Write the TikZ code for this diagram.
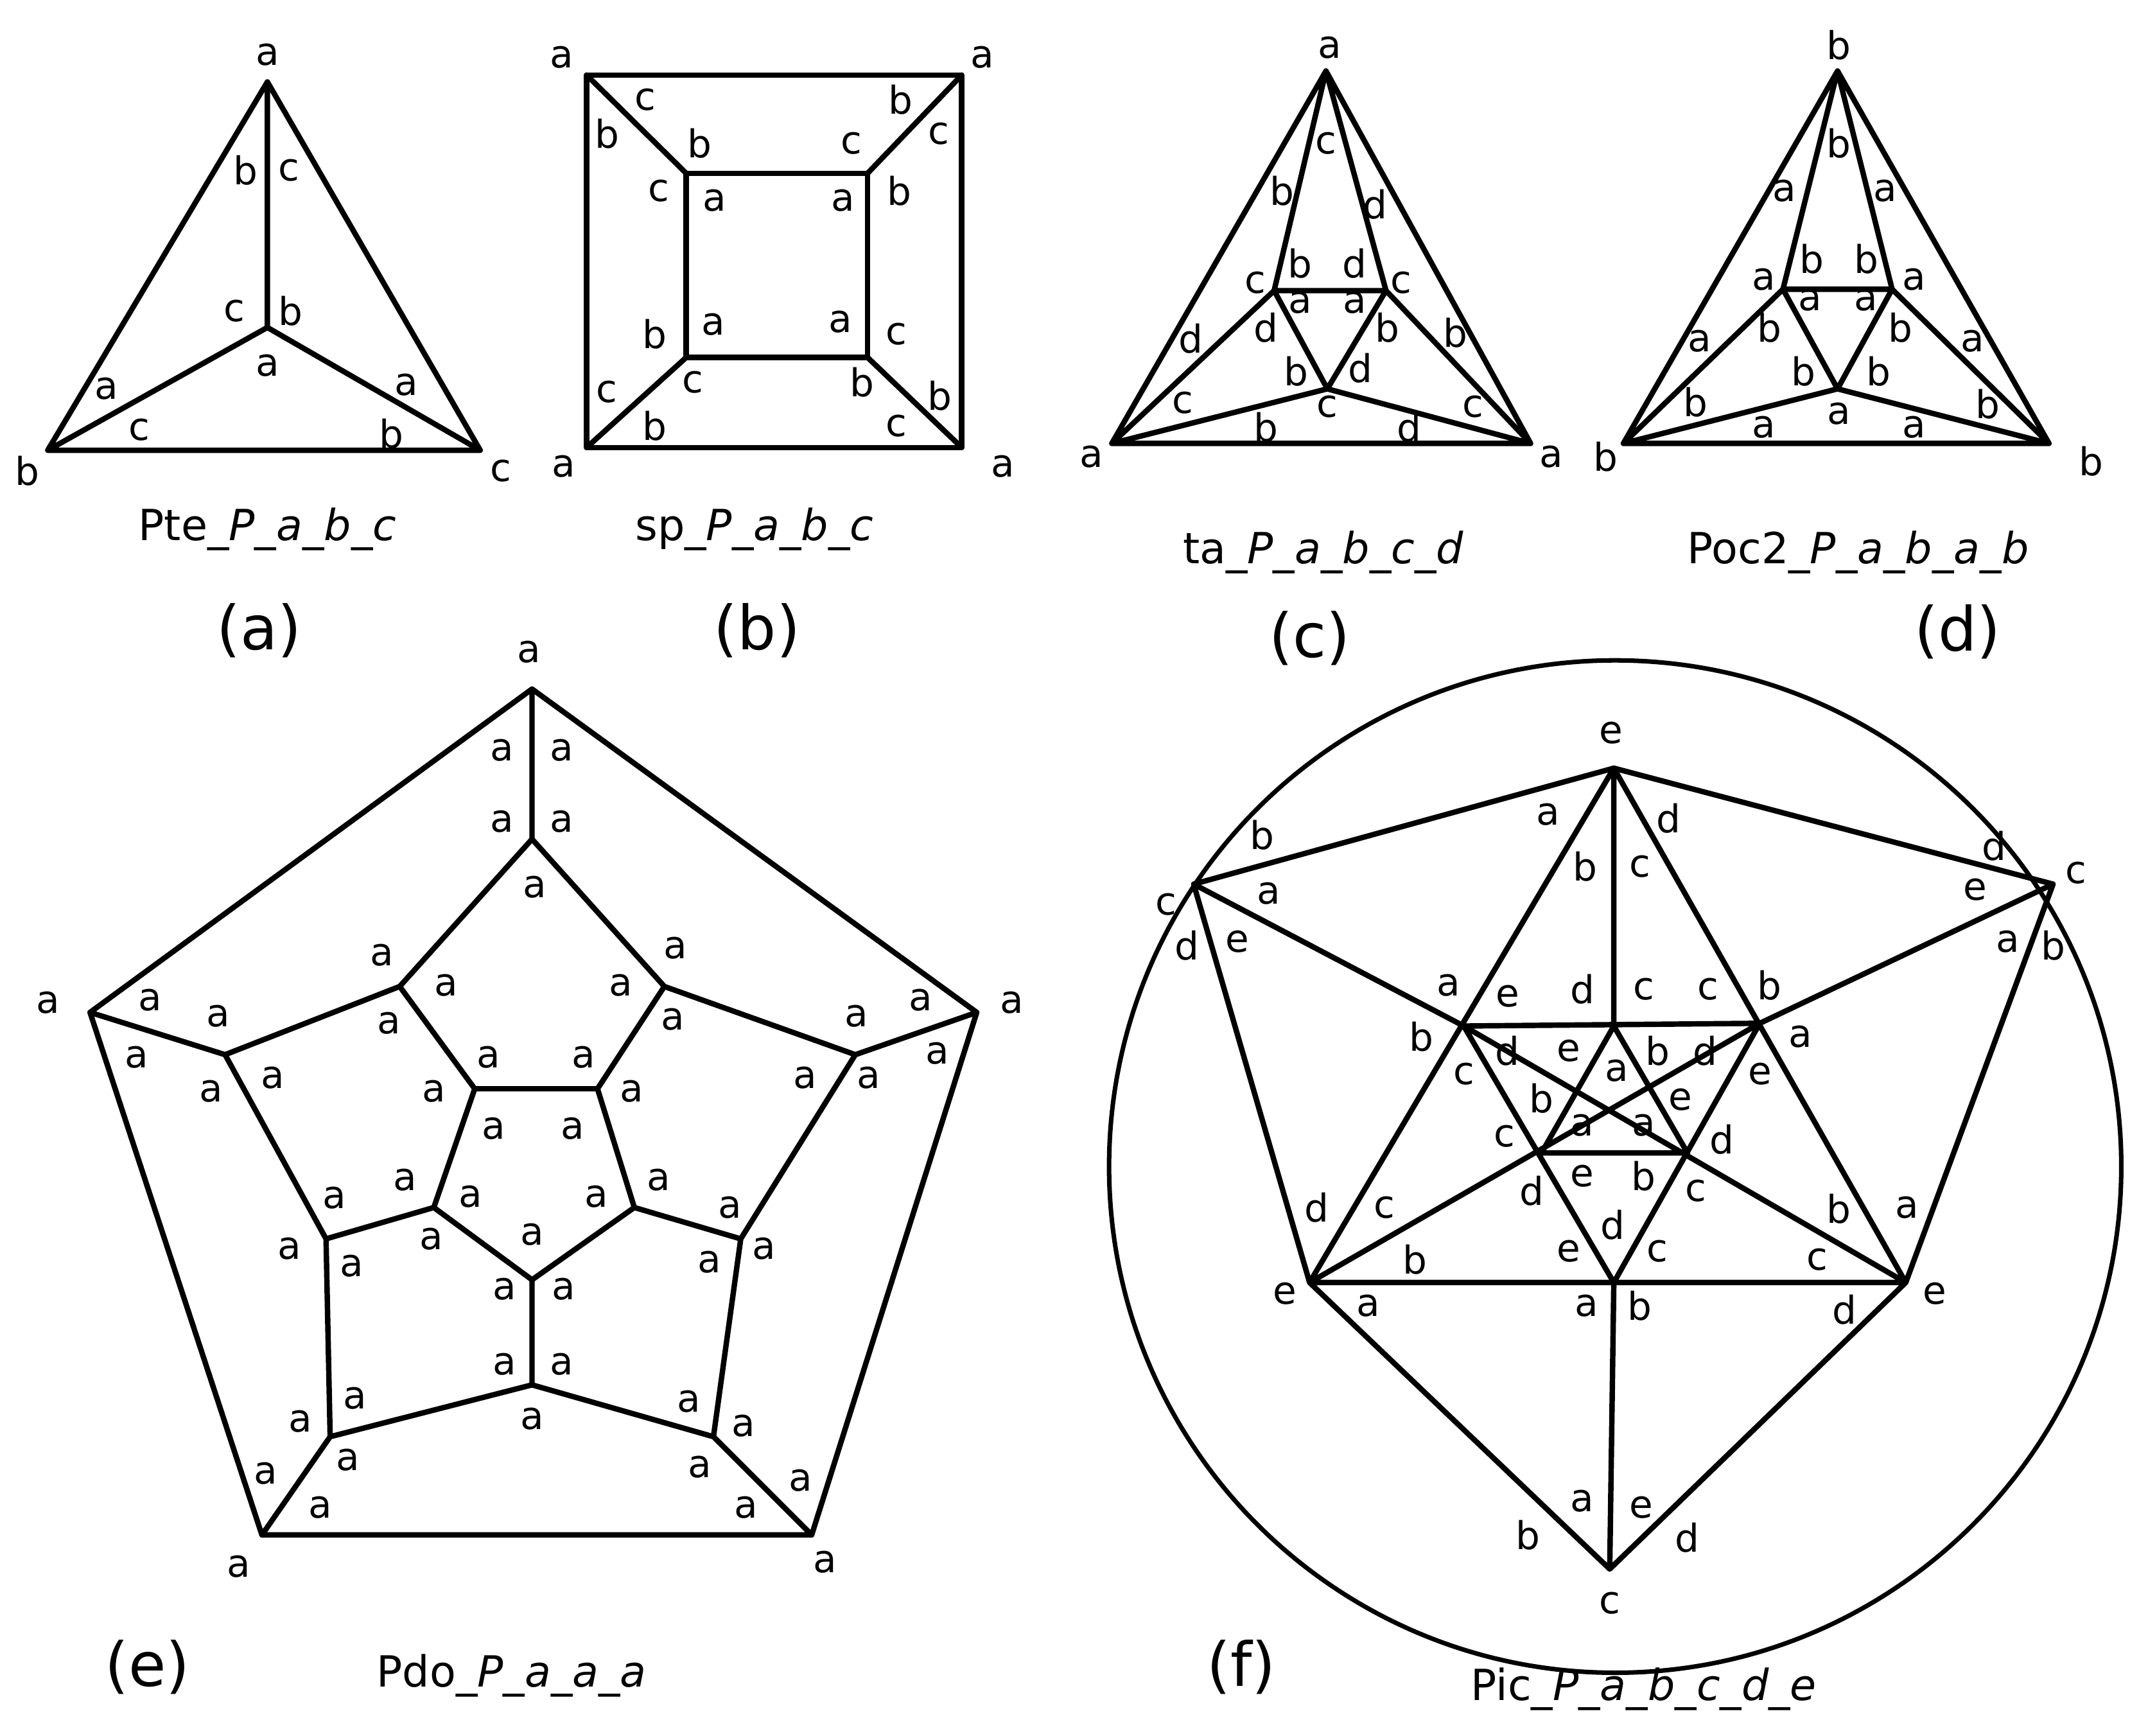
\documentclass[tikz,border=0pt]{standalone}
\usepackage{fontspec}
\setmainfont{DejaVu Sans}
\begin{document}
\begin{tikzpicture}[x=0.02124cm,y=-0.02124cm,
  ed/.style={line width=2.4pt,line join=round,line cap=round},
  lb/.style={font=\fontsize{17}{20}\selectfont,inner sep=0pt},
  captxt/.style={font=\fontsize{19}{22}\selectfont,inner sep=0pt},
  tag/.style={font=\fontsize{27}{32}\selectfont,inner sep=0pt}]
\useasboundingbox (0,0) rectangle (1568,1272);
% (a)
\coordinate (aT) at (196,60); \coordinate (aL) at (35,330); \coordinate (aR) at (352,330); \coordinate (aC) at (196,240);
\draw[ed] (aT)--(aL)--(aR)--cycle (aT)--(aC) (aL)--(aC)--(aR);
\foreach \t/\x/\y in {a/196/40,b/20/345,c/367/345,b/180/125,c/212/125,c/172/228,b/213/228,a/196/268,a/78/285,c/102/315,a/298/282,b/287/318}
  \node[lb] at (\x,\y) {\t};
\node[captxt] (ca) at (196,388) {Pte\_\textit{P\_a\_b\_c}};
\node[tag] (ta) at (190,462) {(a)};
% (b)
\draw[ed] (430,55) rectangle (705,328) (503,127) rectangle (636,262);
\draw[ed] (430,55)--(503,127) (705,55)--(636,127) (430,328)--(503,262) (705,328)--(636,262);
\foreach \t/\x/\y in {a/412/42,a/720/42,a/413/342,a/735/342,c/473/73,b/445/98,b/513/105,c/483/140,a/524/147,b/660/73,c/688/98,c/624/105,b/659/140,a/618/147,b/480/245,a/523/238,c/508/280,c/445/287,b/480/312,a/616/236,c/657/245,b/632/280,b/689/290,c/657/312}
  \node[lb] at (\x,\y) {\t};
\node[captxt] (cb) at (553,388) {sp\_\textit{P\_a\_b\_c}};
\node[tag] (tb) at (555,462) {(b)};
% (c)
\coordinate (cT) at (972,52); \coordinate (cL) at (815,325); \coordinate (cR) at (1122,325);
\coordinate (c1) at (934,213); \coordinate (c2) at (1016,213); \coordinate (c3) at (973,285);
\draw[ed] (cT)--(cL)--(cR)--cycle (c1)--(c2)--(c3)--cycle (cT)--(c1) (cT)--(c2) (cL)--(c1) (cL)--(c3) (cR)--(c2) (cR)--(c3);
\foreach \t/\x/\y in {a/975/35,a/800/335,a/1137/335,c/972/105,b/940/140,d/1008/150,c/920/207,b/953/193,d/993/193,c/1027/207,a/953/222,a/993/222,d/873/248,d/928/240,b/1017/240,b/1067/244,b/950/272,d/997/270,c/867/295,c/973/298,c/1080/298,b/928/313,d/1033/313}
  \node[lb] at (\x,\y) {\t};
\node[captxt] (cc) at (970,405) {ta\_\textit{P\_a\_b\_c\_d}};
\node[tag] (tc) at (960,468) {(c)};
% (d)
\coordinate (dT) at (1347,52); \coordinate (dL) at (1190,325); \coordinate (dR) at (1502,325);
\coordinate (d1) at (1307,212); \coordinate (d2) at (1387,212); \coordinate (d3) at (1347,285);
\draw[ed] (dT)--(dL)--(dR)--cycle (d1)--(d2)--(d3)--cycle (dT)--(d1) (dT)--(d2) (dL)--(d1) (dL)--(d3) (dR)--(d2) (dR)--(d3);
\foreach \t/\x/\y in {b/1348/33,b/1177/335,b/1533/338,b/1348/105,a/1308/140,a/1382/140,a/1293/205,b/1328/190,b/1368/190,a/1403/205,a/1327/220,a/1368/220,a/1246/250,b/1297/240,b/1393/240,a/1446/250,b/1322/272,b/1377/272,a/1348/303,b/1243/295,b/1457/296,a/1293/313,a/1403/313}
  \node[lb] at (\x,\y) {\t};
\node[captxt] (cd) at (1362,405) {Poc2\_\textit{P\_a\_b\_a\_b}};
\node[tag] (td) at (1435,463) {(d)};
% (e)
\coordinate (o1) at (390,505); \coordinate (o2) at (66,742); \coordinate (o3) at (716,742); \coordinate (o4) at (192,1125); \coordinate (o5) at (595,1125);
\coordinate (m1) at (390,615); \coordinate (m2) at (293,723); \coordinate (m3) at (165,773); \coordinate (m4) at (239,908); \coordinate (m5) at (242,1053);
\coordinate (m6) at (390,1015); \coordinate (m7) at (523,1053); \coordinate (m8) at (543,908); \coordinate (m9) at (627,773); \coordinate (m10) at (487,723);
\coordinate (i1) at (348,798); \coordinate (i2) at (438,798); \coordinate (i3) at (465,885); \coordinate (i4) at (390,938); \coordinate (i5) at (318,885);
\draw[ed] (o1)--(o3)--(o5)--(o4)--(o2)--cycle (o1)--(m1) (o2)--(m3) (o3)--(m9) (o4)--(m5) (o5)--(m7)
  (m1)--(m2)--(m3)--(m4)--(m5)--(m6)--(m7)--(m8)--(m9)--(m10)--cycle
  (m2)--(i1) (m10)--(i2) (m4)--(i5) (m8)--(i3) (m6)--(i4) (i1)--(i2)--(i3)--(i4)--(i5)--cycle;
\foreach \x/\y in {388/478,368/550,412/550,368/602,412/602,392/650,280/700,285/750,327/722,455/722,495/695,493/747,35/735,110/733,160/745,100/775,155/800,200/790,742/735,675/733,628/745,687/772,637/790,590/790,358/775,428/775,318/800,463/800,362/827,420/827,245/878,297/865,345/877,316/908,258/928,212/915,437/877,483/865,535/885,520/925,560/915,390/905,370/945,413/945,370/1000,412/1000,390/1040,220/1042,260/1025,255/1070,195/1080,235/1105,505/1027,545/1045,513/1075,587/1085,547/1105,175/1148,605/1145}
  \node[lb] at (\x,\y) {a};
\node[captxt] (ce) at (375,1228) {Pdo\_\textit{P\_a\_a\_a}};
\node[tag] (te) at (108,1222) {(e)};
% (f)
\draw[line width=2pt] (1184,855) circle [radius=371];
\coordinate (T) at (1183,563); \coordinate (CL) at (875,648); \coordinate (CR) at (1505,648);
\coordinate (EL) at (960,940); \coordinate (ER) at (1397,940); \coordinate (B) at (1180,1150);
\coordinate (M1) at (1073,752); \coordinate (M2) at (1290,750); \coordinate (M0) at (1183,752);
\coordinate (P1) at (1130,845); \coordinate (P2) at (1237,845); \coordinate (Q) at (1183,940);
\draw[ed] (CL)--(T)--(CR) (CL)--(EL)--(B)--(ER)--(CR) (CL)--(M1) (CR)--(M2) (T)--(EL) (T)--(ER) (T)--(M0)
  (M1)--(M2) (EL)--(ER) (Q)--(B) (M1)--(Q)--(M2) (EL)--(M2) (ER)--(M1) (P1)--(M0)--(P2)--(P1);
\foreach \t/\x/\y in {e/1181/537,c/855/663,c/1522/640,e/942/948,e/1418/948,c/1180/1175,b/925/612,a/930/655,d/870/693,e/907/690,d/1223/600,a/1135/597,b/1162/635,c/1202/635,d/1462/620,e/1448/652,a/1472/690,b/1505/693,a/1062/722,e/1105/730,d/1160/725,c/1205/725,c/1252/725,b/1297/722,b/1042/760,d/1105/770,e/1150/770,a/1185/785,b/1215/770,d/1250/770,a/1320/760,c/1073/787,e/1290/787,b/1130/805,e/1232/806,c/1103/833,a/1160/825,a/1205/825,d/1262/835,d/1123/873,e/1160/862,b/1205/862,c/1243/873,d/965/885,c/1015/885,d/1182/898,b/1348/886,a/1398/885,b/1037/923,e/1150/917,c/1215/917,c/1332/923,a/1003/957,a/1163/957,b/1202/957,d/1352/960,a/1160/1100,e/1203/1105,b/1120/1125,d/1237/1127}
  \node[lb] at (\x,\y) {\t};
\node[captxt] (cf) at (1205,1238) {Pic\_\textit{P\_a\_b\_c\_d\_e}};
\node[tag] (tf) at (910,1222) {(f)};
\end{tikzpicture}
\end{document}
